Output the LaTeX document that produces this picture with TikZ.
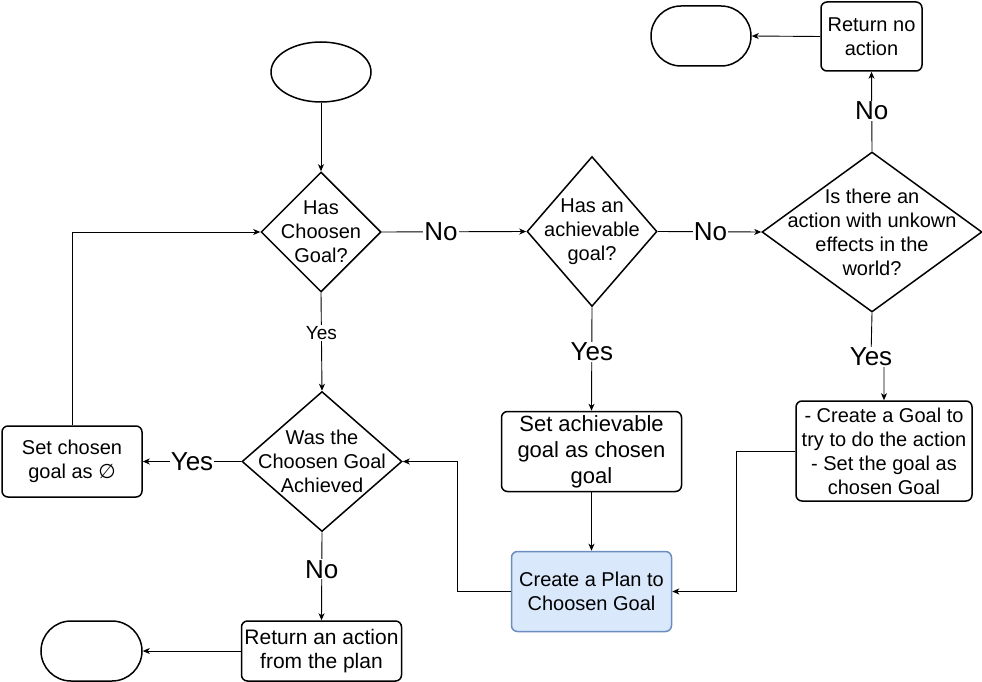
\documentclass[tikz,border=0pt]{standalone}
\usepackage{fontspec}
\setmainfont{Liberation Sans}
\newfontfamily\symfont{DejaVu Sans}
\usetikzlibrary{shapes.geometric,arrows.meta}

\definecolor{planfill}{HTML}{DAE8FC}
\definecolor{planedge}{HTML}{6C8EBF}

\begin{document}
\begin{tikzpicture}[x=1pt, y=-1pt, >={Stealth[length=7pt,width=6pt,inset=2pt]}]

% --- 全局样式 ---
\tikzset{
  every node/.style={font=\fontsize{20}{24}\selectfont},
  box/.style={draw, line width=1.5pt, rounded corners=6pt, align=center, inner sep=0pt},
  term/.style={draw, line width=1.5pt, rounded corners=30pt, minimum width=100pt, minimum height=60pt},
  cond/.style={draw, diamond, line width=1.5pt, inner sep=0pt},
  line/.style={line width=0.9pt},
  biglab/.style={fill=white, inner sep=1pt, font=\fontsize{26}{30}\selectfont},
  smalllab/.style={fill=white, inner sep=1pt, font=\fontsize{19}{22}\selectfont},
}

% --- 画布大小 ---
\useasboundingbox (0,0) rectangle (982,682);

% --- 开始与结束 ---
\node[draw, ellipse, line width=1.5pt, minimum width=100pt, minimum height=60pt] (start) at (321,72) {};
\node[term] (endtop) at (701,36) {};
\node[term, minimum width=101pt] (endbot) at (91.5,651) {};

% --- 判断 ---
\node[cond, minimum width=120pt, minimum height=120pt] (hasgoal) at (321,232) {};
\node[align=center] (hasgoaltxt) at (hasgoal) {Has\\Choosen\\Goal?};
\node[cond, minimum width=130pt, minimum height=150pt] (hasach) at (592,231.5) {};
\node[align=center] (hasachtxt) at (hasach) {Has an\\achievable\\goal?};
\node[cond, minimum width=220pt, minimum height=160pt] (unknown) at (872,232) {};
\node[align=center] (unknowntxt) at (unknown) {Is there an\\action with unkown\\effects in the\\world?};
\node[cond, minimum width=160pt, minimum height=140pt] (achieved) at (322,461.5) {};
\node[align=center] (achievedtxt) at (achieved) {Was the\\Choosen Goal\\Achieved};

% --- 处理框 ---
\node[box, minimum width=101pt, minimum height=69pt] (retno) at (871.5,36.5) {Return no\\action};
\node[box, minimum width=140pt, minimum height=71pt] (setnull) at (72,461.5) {Set chosen\\goal as {\symfont ∅}};
\node[box, minimum width=180pt, minimum height=80pt, font=\fontsize{22}{26}\selectfont] (setach) at (591.5,451.5) {Set achievable\\goal as chosen\\goal};
\node[box, minimum width=176pt, minimum height=100pt] (newgoal) at (884,451) {- Create a Goal to\\try to do the action\\- Set the goal as\\chosen Goal};
\node[box, fill=planfill, draw=planedge, minimum width=160pt, minimum height=80pt] (plan) at (591.5,591.5) {Create a Plan to\\Choosen Goal};
\node[box, minimum width=160pt, minimum height=60pt, font=\fontsize{21}{23.5}\selectfont] (retact) at (321.5,651) {Return an action\\from the plan};

% --- 拐点 ---
\coordinate (yesjog) at (871,357);
\coordinate (bendr) at (736,451);
\coordinate (bendl) at (457,591.5);

% --- 连线 ---
\draw[line, ->] (start.south) -- (hasgoal.north);
\draw[line, ->] (hasgoal.east) -- node[biglab, pos=0.41] (no1) {No} (hasach.west);
\draw[line, ->] (hasach.east) -- node[biglab, pos=0.51] (no2) {No} (unknown.west);
\draw[line, ->] (unknown.north) -- node[biglab, pos=0.51] (no3) {No} (retno.south);
\draw[line, ->] (retno.west) -- (endtop.east);
\draw[line, ->] (hasgoal.south) -- node[smalllab, pos=0.41] (yes1) {Yes} (achieved.north);
\draw[line, ->] (hasach.south) -- node[biglab, pos=0.43] (yes2) {Yes} (setach.north);
\draw[line, ->] (unknown.south) -- (yesjog) -| (newgoal.north);
\node[biglab] (yes3) at (yesjog) {Yes};
\draw[line, ->] (setach.south) -- (plan.north);
\draw[line, ->] (newgoal.west) -- (bendr) |- (plan.east);
\draw[line, ->] (plan.west) -- (bendl) |- (achieved.east);
\draw[line, ->] (achieved.west) -- node[biglab, pos=0.5] (yes4) {Yes} (setnull.east);
\draw[line, ->] (setnull.north) |- (hasgoal.west);
\draw[line, ->] (achieved.south) -- node[biglab, pos=0.42] (no4) {No} (retact.north);
\draw[line, ->] (retact.west) -- (endbot.east);
\end{tikzpicture}
\end{document}
